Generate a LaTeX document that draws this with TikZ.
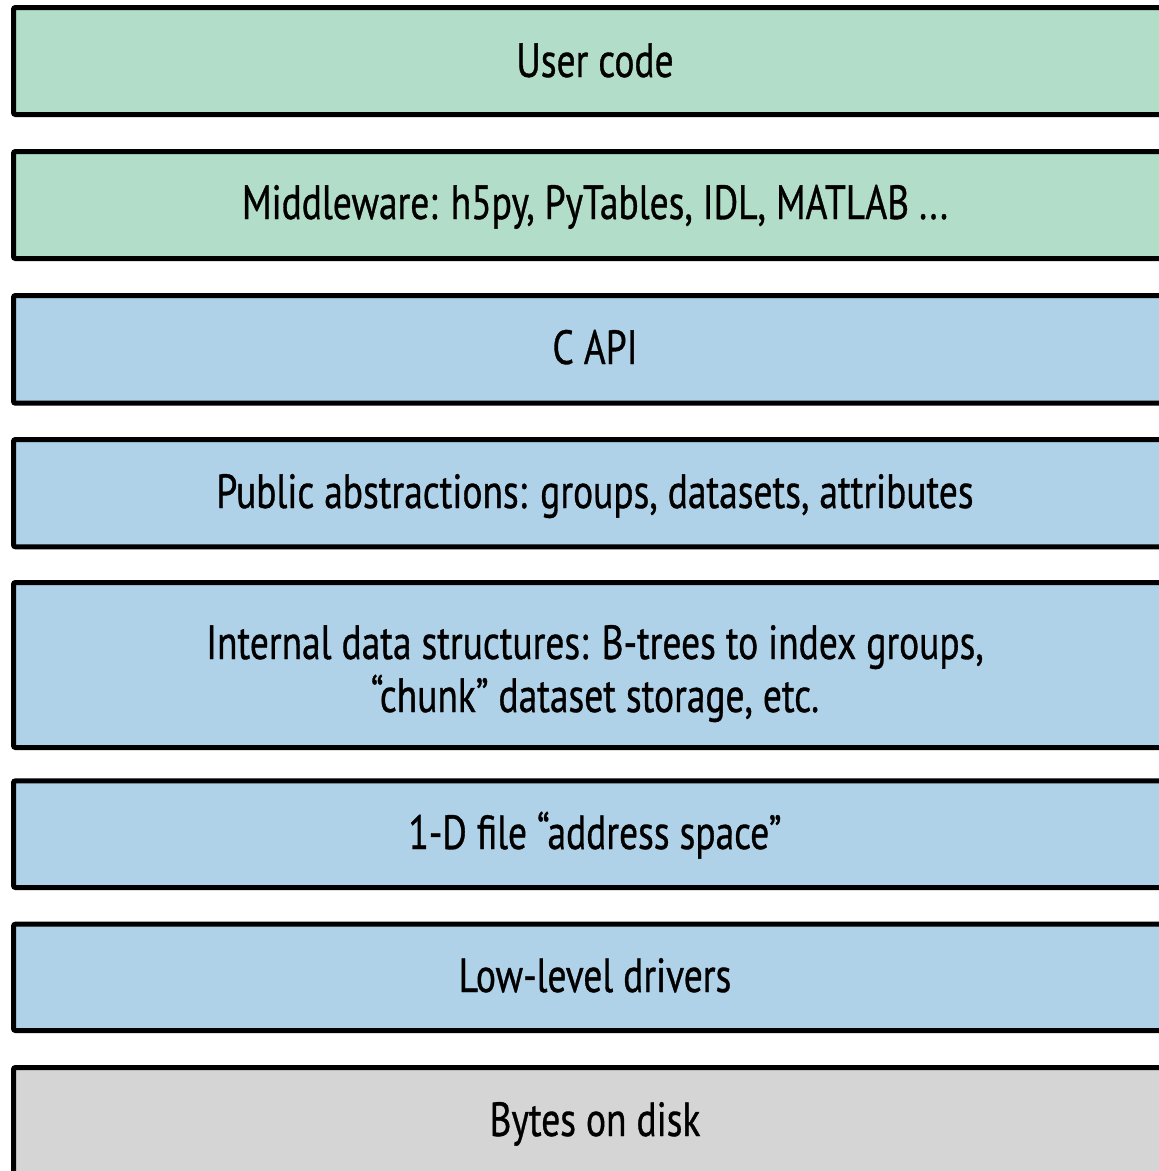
\documentclass[tikz,border=0pt]{standalone}
\usepackage{fontspec}
\newfontfamily\boxfont[FakeStretch=0.78,FakeBold=0.7]{PT Sans}
\definecolor{lgreen}{HTML}{B2DDC8}
\definecolor{lblue}{HTML}{B0D2E9}
\definecolor{lgray}{HTML}{D5D5D5}
\begin{document}
\begin{tikzpicture}[x=1pt,y=-1pt,
  layer/.style={draw=black,line width=5pt,rounded corners=2pt},
  lbl/.style={anchor=base,inner sep=0pt,font=\boxfont\fontsize{48}{53}\selectfont,align=center}]
\useasboundingbox (0,0) rectangle (1159,1171);
\fill[white] (0,0) rectangle (1159,1171);
\draw[layer,fill=lgreen] (13.5,7.5) rectangle (1185,114.5);
\draw[layer,fill=lgreen] (13.5,151.5) rectangle (1185,258.5);
\draw[layer,fill=lblue] (13.5,295.5) rectangle (1185,403.2);
\draw[layer,fill=lblue] (13.5,439.5) rectangle (1185,546.8);
\draw[layer,fill=lblue] (13.5,582.5) rectangle (1185,747.5);
\draw[layer,fill=lblue] (13.5,780.8) rectangle (1185,887.5);
\draw[layer,fill=lblue] (13.5,924.2) rectangle (1185,1030.5);
\draw[layer,fill=lgray] (13.5,1067.5) rectangle (1185,1200);
\node[lbl] (user) at (595,77) {User code};
\node[lbl] (mid) at (595,219) {Middleware: h5py, PyTables, IDL, MATLAB ...};
\node[lbl] (capi) at (595,364) {C API};
\node[lbl] (pub) at (595,508) {Public abstractions: groups, datasets, attributes};
\node[lbl] (int1) at (595,659) {Internal data structures: B-trees to index groups,};
\node[lbl] (int2) at (595,712) {“chunk” dataset storage, etc.};
\node[lbl] (addr) at (595,849) {1-D file “address space”};
\node[lbl] (low) at (595,992) {Low-level drivers};
\node[lbl] (bytes) at (595,1136) {Bytes on disk};
\end{tikzpicture}
\end{document}
